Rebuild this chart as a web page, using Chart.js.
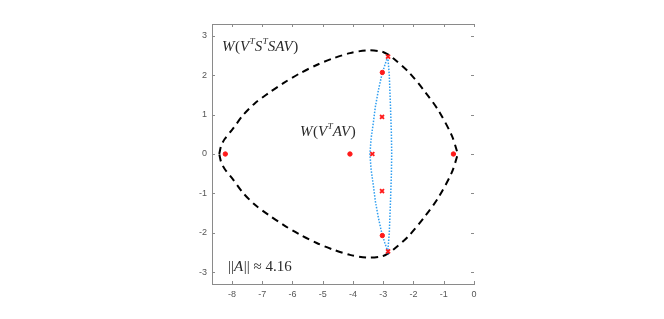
<!DOCTYPE html>
<html lang="en">
<head>
    <meta charset="UTF-8">
    <title>Field of values</title>
    <script src="https://cdn.jsdelivr.net/npm/chart.js"></script>
    <style>
        body {
            margin: 0;
            background: #fff;
        }
    </style>
</head>
<body>
    <canvas id="fov" width="664" height="319"></canvas>

    <script>
        // Outer boundary W(V^T S^T S A V), dashed black
        const outerX = [-8.42, -8.36, -8.24, -7.96, -7.63, -7.24, -6.80, -6.30, -5.75, -5.20, -4.65, -4.10, -3.55, -3.05, -2.83, -2.67, -2.17, -1.62, -1.18, -0.74, -0.57, -0.55,
                        -0.57, -0.74, -1.18, -1.62, -2.17, -2.67, -2.83, -3.05, -3.55, -4.10, -4.65, -5.20, -5.75, -6.30, -6.80, -7.24, -7.63, -7.96, -8.24, -8.36, -8.42];
        const outerY = [0, 0.20, 0.38, 0.65, 0.99, 1.29, 1.54, 1.80, 2.05, 2.26, 2.43, 2.56, 2.63, 2.60, 2.52, 2.43, 2.09, 1.58, 1.11, 0.48, 0.09, 0,
                        -0.09, -0.48, -1.11, -1.58, -2.09, -2.43, -2.52, -2.60, -2.63, -2.56, -2.43, -2.26, -2.05, -1.80, -1.54, -1.29, -0.99, -0.65, -0.38, -0.20, 0];

        // Inner boundary W(V^T A V), dotted blue
        const innerX = [-2.85, -2.95, -3.05, -3.16, -3.26, -3.33, -3.40, -3.44, -3.40, -3.33, -3.26, -3.16, -3.05, -2.95, -2.85,
                        -2.80, -2.76, -2.73, -2.72, -2.73, -2.76, -2.80, -2.85];
        const innerY = [2.48, 2.25, 2.00, 1.62, 1.20, 0.78, 0.40, 0, -0.40, -0.78, -1.20, -1.62, -2.00, -2.25, -2.48,
                        -2.00, -1.20, -0.50, 0, 0.50, 1.20, 2.00, 2.48];

        // red dots and red crosses
        const dotX = [-8.22, -4.10, -0.68, -3.03, -3.03];
        const dotY = [0, 0, 0, 2.07, -2.07];
        const crossX = [-3.36, -2.84, -2.84, -3.04, -3.04];
        const crossY = [0, 2.47, -2.47, 0.94, -0.94];

        const xTicks = [-8, -7, -6, -5, -4, -3, -2, -1, 0];
        const yTicks = [-3, -2, -1, 0, 1, 2, 3];

        const pts = (xs, ys) => xs.map((x, i) => ({x: x, y: ys[i]}));

        const axisGray = '#8a8a8a';

        // box top line + inward tick marks on all four sides (no right line)
        const boxTicks = {
            id: 'boxTicks',
            afterDraw(chart) {
                const {ctx, chartArea: a, scales} = chart;
                ctx.save();
                ctx.strokeStyle = axisGray;
                ctx.lineWidth = 1;
                ctx.beginPath();
                ctx.moveTo(a.left, a.top + 0.5);
                ctx.lineTo(a.right, a.top + 0.5);
                xTicks.forEach(v => {
                    const px = Math.round(scales.x.getPixelForValue(v)) + 0.5;
                    ctx.moveTo(px, a.bottom);
                    ctx.lineTo(px, a.bottom - 3);
                    ctx.moveTo(px, a.top);
                    ctx.lineTo(px, a.top + 3);
                });
                yTicks.forEach(v => {
                    const py = Math.round(scales.y.getPixelForValue(v)) + 0.5;
                    ctx.moveTo(a.left, py);
                    ctx.lineTo(a.left + 3, py);
                    ctx.moveTo(a.right, py);
                    ctx.lineTo(a.right - 3, py);
                });
                ctx.stroke();
                ctx.restore();
            }
        };

        // math-style labels placed in data coordinates
        const labels = [
            {x: -8.33, y: 2.62, parts: [['W', 'i'], ['(', 'r'], ['V', 'i'], ['T', 's'], ['S', 'i'], ['T', 's'], ['SAV', 'i'], [')', 'r']]},
            {x: -5.75, y: 0.45, parts: [['W', 'i'], ['(', 'r'], ['V', 'i'], ['T', 's'], ['AV', 'i'], [')', 'r']]},
            {x: -8.13, y: -2.97, parts: [['||', 'r'], ['A', 'i'], ['||', 'r'], [' \u2248 4.16', 'r']]}
        ];

        const mathText = {
            id: 'mathText',
            afterDatasetsDraw(chart) {
                const {ctx, scales} = chart;
                ctx.save();
                ctx.fillStyle = '#2a2a2a';
                ctx.textBaseline = 'alphabetic';
                labels.forEach(l => {
                    let px = scales.x.getPixelForValue(l.x);
                    const py = scales.y.getPixelForValue(l.y);
                    l.parts.forEach(([t, s]) => {
                        if (s === 's') {
                            ctx.font = 'italic 9px "Liberation Serif"';
                            ctx.fillText(t, px, py - 7);
                        } else {
                            ctx.font = (s === 'i' ? 'italic ' : '') + '15px "Liberation Serif"';
                            ctx.fillText(t, px, py);
                        }
                        px += ctx.measureText(t).width + (s === 'i' ? 0.5 : 0);
                    });
                });
                ctx.restore();
            }
        };

        new Chart(document.getElementById('fov'), {
            type: 'scatter',
            data: {
                datasets: [{
                    data: pts(dotX, dotY),
                    pointStyle: 'circle',
                    pointRadius: 2.2,
                    backgroundColor: '#ff1a1a',
                    borderColor: '#ff1a1a',
                    borderWidth: 1,
                    order: 0
                },
                {
                    data: pts(crossX, crossY),
                    pointStyle: 'crossRot',
                    pointRadius: 2.8,
                    borderColor: '#ff1a1a',
                    borderWidth: 1.8,
                    order: 0
                },
                {
                    data: pts(innerX, innerY),
                    showLine: true,
                    pointRadius: 0,
                    borderColor: '#2f9ef0',
                    borderWidth: 1.5,
                    borderDash: [1.5, 1.5],
                    tension: 0,
                    order: 1
                },
                {
                    data: pts(outerX, outerY),
                    showLine: true,
                    pointRadius: 0,
                    borderColor: '#000',
                    borderWidth: 2,
                    borderDash: [7, 5],
                    tension: 0.3,
                    order: 2
                }]
            },
            options: {
                responsive: false,
                animation: false,
                devicePixelRatio: 1,
                layout: {
                    padding: {left: 182, right: 190, top: 24, bottom: 5}
                },
                plugins: {
                    legend: {display: false},
                    tooltip: {enabled: false}
                },
                scales: {
                    x: {
                        type: 'linear',
                        min: -8.66,
                        max: 0,
                        afterBuildTicks: s => { s.ticks = xTicks.map(v => ({value: v})); },
                        afterFit: s => { s.height = 30; },
                        grid: {display: false, drawTicks: false},
                        border: {display: true, color: axisGray},
                        ticks: {
                            padding: 5,
                            color: '#555',
                            font: {family: 'Liberation Sans', size: 9}
                        }
                    },
                    y: {
                        type: 'linear',
                        min: -3.3,
                        max: 3.3,
                        afterBuildTicks: s => { s.ticks = yTicks.map(v => ({value: v})); },
                        afterFit: s => { s.width = 30; },
                        grid: {display: false, drawTicks: false},
                        border: {display: true, color: axisGray},
                        ticks: {
                            padding: 5,
                            color: '#555',
                            font: {family: 'Liberation Sans', size: 9}
                        }
                    }
                }
            },
            plugins: [boxTicks, mathText]
        });
    </script>
</body>
</html>
